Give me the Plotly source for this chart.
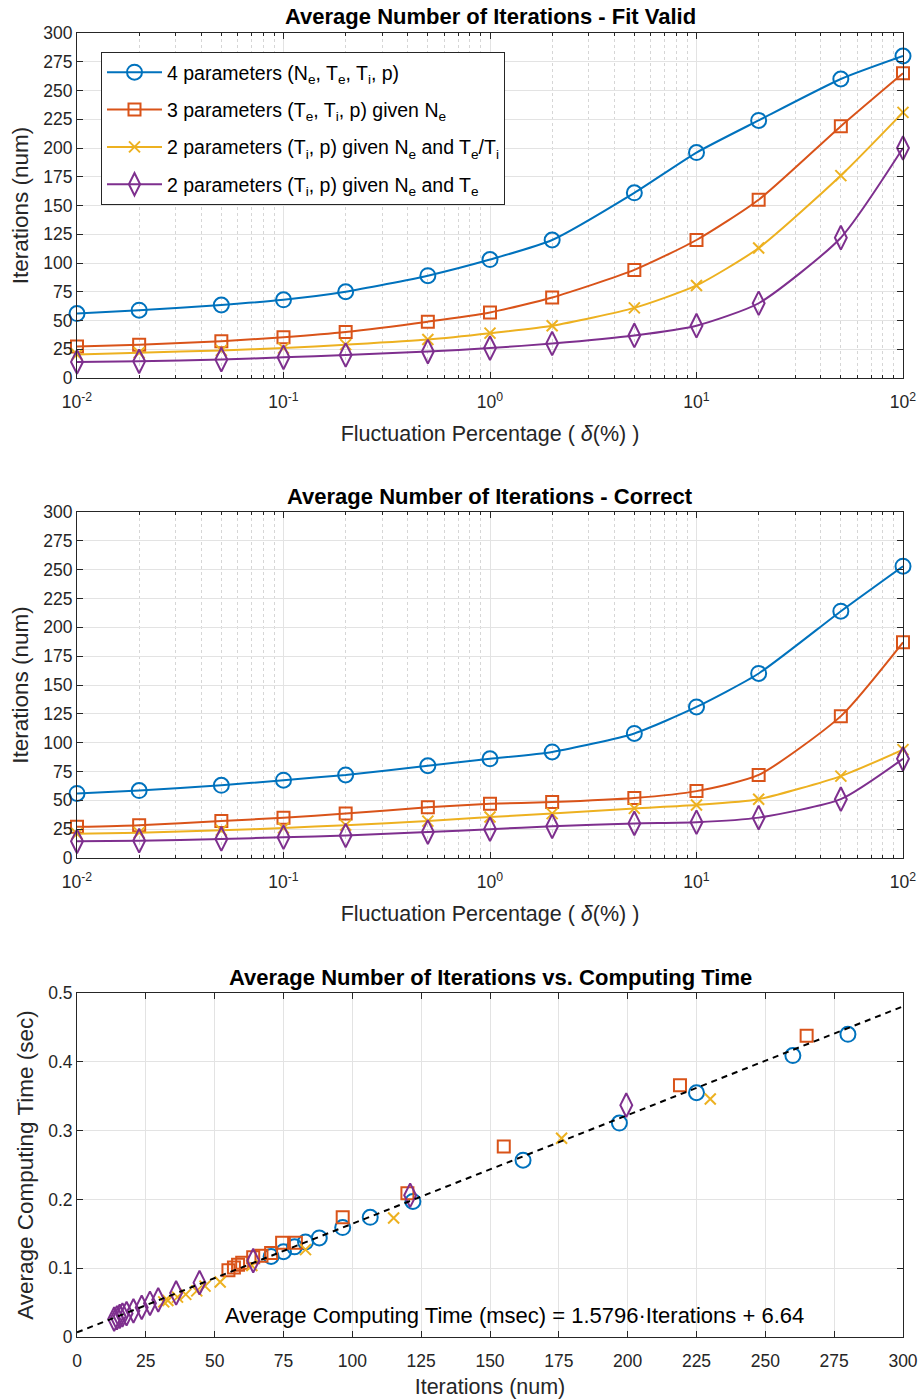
import plotly.graph_objects as go

# ---------------- data ----------------
delta = [0.01, 0.02, 0.05, 0.1, 0.2, 0.5, 1, 2, 5, 10, 20, 50, 100]

# Fit valid
fv_4p = [56, 59, 63.5, 68, 75, 89, 103, 120, 161, 196, 224, 260, 280]
fv_3p = [27.5, 29, 32, 35.5, 40, 49, 57, 70, 94, 120, 155, 219, 265]
fv_2p_ratio = [20.5, 22, 24, 26, 29, 33.5, 39, 45.5, 61, 80.5, 113, 176, 231]
fv_2p_te = [14, 14.5, 16, 18, 20, 23, 26, 30, 37, 45.5, 65, 122, 200]

# Correct
co_4p = [56, 58.5, 63, 67.5, 72, 80, 86, 92, 108, 131, 160, 214, 253]
co_3p = [27, 28.5, 32, 35, 38.5, 44, 47, 48.5, 52, 58, 72, 123, 187]
co_2p_ratio = [21, 22, 24, 26, 28.5, 32, 35.5, 38.5, 43, 46, 51, 71, 94]
co_2p_te = [14.5, 15, 16.5, 18, 19.5, 22.5, 25, 27.5, 30, 31, 35, 51, 86]

# Iterations vs computing time
sc_4p_it = [70.5, 75, 79, 83, 88, 96.5, 106.5, 122, 162, 197, 225, 260, 280]
sc_4p_t = [0.117, 0.124, 0.131, 0.138, 0.144, 0.159, 0.174, 0.197, 0.257, 0.311, 0.355, 0.409, 0.440]
sc_3p_it = [55, 57, 58.5, 60, 64, 67, 70.5, 74.5, 79.5, 96.5, 120, 155, 219, 265]
sc_3p_t = [0.097, 0.101, 0.105, 0.108, 0.116, 0.118, 0.122, 0.137, 0.137, 0.174, 0.209, 0.277, 0.366, 0.438]
sc_2pr_it = [31.5, 33, 36.5, 39.5, 43.5, 46.5, 52, 63.5, 83, 115, 176, 230]
sc_2pr_t = [0.051, 0.053, 0.058, 0.062, 0.067, 0.074, 0.080, 0.104, 0.127, 0.173, 0.289, 0.346]
sc_2pt_it = [13.5, 14.5, 15.5, 16.5, 18, 20.5, 23.5, 26.5, 29.5, 36, 44.5, 64, 121, 199.5]
sc_2pt_t = [0.026, 0.028, 0.030, 0.032, 0.034, 0.038, 0.043, 0.049, 0.054, 0.064, 0.079, 0.111, 0.206, 0.337]

fit_slope = 1.5796   # msec per iteration
fit_intercept = 6.64  # msec
fit_x = [0, 300]

names = [
    "4 parameters (N<sub>e</sub>, T<sub>e</sub>, T<sub>i</sub>, p)",
    "3 parameters (T<sub>e</sub>, T<sub>i</sub>, p) given N<sub>e</sub>",
    "2 parameters (T<sub>i</sub>, p) given N<sub>e</sub> and T<sub>e</sub>/T<sub>i</sub>",
    "2 parameters (T<sub>i</sub>, p) given N<sub>e</sub> and T<sub>e</sub>",
]
colors = ["#0072BD", "#D95319", "#EDB120", "#7E2F8E"]
symbols = ["circle-open", "square-open", "x-thin-open", "diamond-tall-open"]
sizes = [15, 12, 11, 17]

# ---------------- figure ----------------
W, H = 919, 1399
FONT = "Liberation Sans, Arial, Helvetica, sans-serif"
TXT = "#262626"


def ydom(top, bot):
    return [1 - bot / H, 1 - top / H]


xdom = [77 / W, 903 / W]

fig = go.Figure()

fv = [fv_4p, fv_3p, fv_2p_ratio, fv_2p_te]
co = [co_4p, co_3p, co_2p_ratio, co_2p_te]
for i in range(4):
    fig.add_trace(go.Scatter(
        x=delta, y=fv[i], name=names[i], mode="lines+markers", legendgroup="g%d" % i,
        line=dict(color=colors[i], width=2, shape="spline", smoothing=0.6),
        marker=dict(symbol=symbols[i], size=sizes[i], color=colors[i],
                    line=dict(width=2, color=colors[i])),
        cliponaxis=False, xaxis="x", yaxis="y", showlegend=True))
for i in range(4):
    fig.add_trace(go.Scatter(
        x=delta, y=co[i], name=names[i], mode="lines+markers", legendgroup="g%d" % i,
        line=dict(color=colors[i], width=2, shape="spline", smoothing=0.6),
        marker=dict(symbol=symbols[i], size=sizes[i], color=colors[i],
                    line=dict(width=2, color=colors[i])),
        cliponaxis=False, xaxis="x2", yaxis="y2", showlegend=False))

sc = [(sc_4p_it, sc_4p_t), (sc_3p_it, sc_3p_t), (sc_2pr_it, sc_2pr_t), (sc_2pt_it, sc_2pt_t)]
for i in range(4):
    fig.add_trace(go.Scatter(
        x=sc[i][0], y=sc[i][1], mode="markers", name=names[i], legendgroup="g%d" % i,
        marker=dict(symbol=symbols[i], size=sizes[i], color=colors[i],
                    line=dict(width=2, color=colors[i])),
        cliponaxis=False, xaxis="x3", yaxis="y3", showlegend=False))

fig.add_trace(go.Scatter(
    x=fit_x, y=[(fit_slope * v + fit_intercept) / 1000 for v in fit_x],
    mode="lines", line=dict(color="black", width=2, dash="6px,5px"),
    xaxis="x3", yaxis="y3", showlegend=False))

minor_vals = [m * 10 ** e for e in range(-2, 2) for m in range(2, 10)]
log_ticks = [0.01, 0.1, 1, 10, 100]
log_text = ["10<sup>-2</sup>", "10<sup>-1</sup>", "10<sup>0</sup>", "10<sup>1</sup>", "10<sup>2</sup>"]

common = dict(showline=True, linecolor=TXT, linewidth=1, mirror="allticks",
              ticks="inside", ticklen=6, tickcolor=TXT, zeroline=False,
              showgrid=True, gridcolor="#e3e3e3", gridwidth=1, automargin=False,
              tickfont=dict(family=FONT, size=17.5, color=TXT))

logx = dict(common, type="log", range=[-2, 2], tickmode="array",
            tickvals=log_ticks, ticktext=log_text, domain=xdom, ticklabelstandoff=8,
            minor=dict(tickmode="array", tickvals=minor_vals, ticks="inside",
                       ticklen=3, tickcolor=TXT, showgrid=True,
                       gridcolor="#d6d6d6", griddash="dot", gridwidth=1),
            title=dict(text="Fluctuation Percentage ( <i>δ</i>(%) )",
                       font=dict(family=FONT, size=21.5, color=TXT), standoff=14))

itery = dict(common, range=[0, 300], dtick=25, tick0=0,
             title=dict(text="Iterations (num)", font=dict(family=FONT, size=22.5, color=TXT),
                        standoff=8))

fig.update_layout(
    width=W, height=H, autosize=False,
    margin=dict(l=0, r=0, t=0, b=0, autoexpand=False),
    paper_bgcolor="white", plot_bgcolor="white",
    font=dict(family=FONT, color=TXT),
    xaxis=dict(logx, anchor="y"),
    yaxis=dict(itery, domain=ydom(33, 378), anchor="x"),
    xaxis2=dict(logx, anchor="y2"),
    yaxis2=dict(itery, domain=ydom(512, 858), anchor="x2"),
    xaxis3=dict(common, range=[0, 300], dtick=25, tick0=0, domain=xdom, anchor="y3",
                ticklabelstandoff=8,
                title=dict(text="Iterations (num)", font=dict(family=FONT, size=21.5, color=TXT),
                           standoff=12)),
    yaxis3=dict(common, range=[0, 0.5], dtick=0.1, tick0=0, domain=ydom(993, 1337), anchor="x3",
                title=dict(text="Average Computing Time (sec)",
                           font=dict(family=FONT, size=22.5, color=TXT), standoff=8)),
    legend=dict(x=101 / W, y=1 - 52 / H, xanchor="left", yanchor="top",
                bgcolor="white", bordercolor=TXT, borderwidth=1,
                font=dict(family=FONT, size=19.5, color="black"),
                itemwidth=55, traceorder="grouped", tracegroupgap=9),
    showlegend=True,
)

titles = [
    ("Average Number of Iterations - Fit Valid", 17),
    ("Average Number of Iterations - Correct", 497),
    ("Average Number of Iterations vs. Computing Time", 977),
]
for t, py in titles:
    fig.add_annotation(text="<b>" + t + "</b>", xref="paper", yref="paper",
                       x=(xdom[0] + xdom[1]) / 2, y=1 - py / H, xanchor="center",
                       yanchor="middle", showarrow=False,
                       font=dict(family=FONT, size=22, color="black"))

fig.add_annotation(text="Average Computing Time (msec) = 1.5796·Iterations + 6.64",
                   xref="x3", yref="y3", x=159, y=0.031, showarrow=False,
                   xanchor="center", yanchor="middle",
                   font=dict(family=FONT, size=22, color="black"))

fig.write_html("out.html")
